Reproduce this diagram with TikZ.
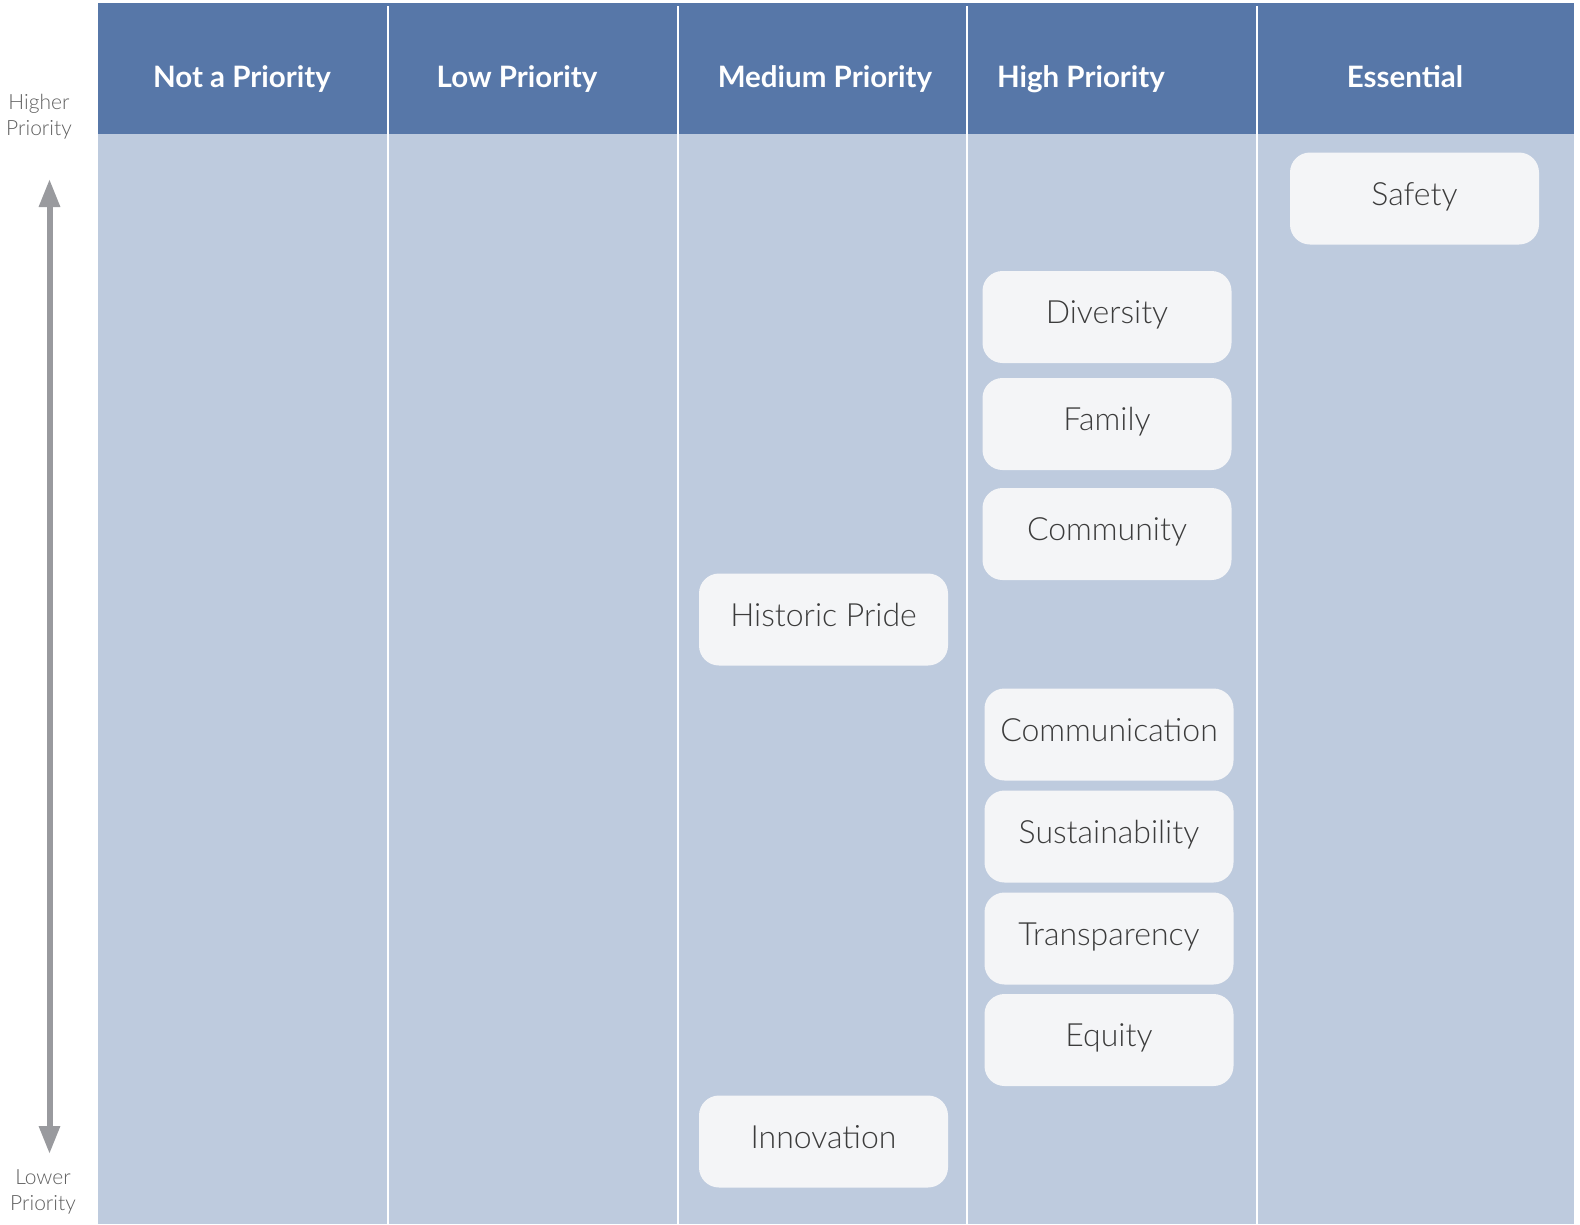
\documentclass[tikz,border=0pt]{standalone}
\usepackage{fontspec}
\setmainfont{Lato}
\newfontfamily\lightfont{Lato Light}
\usetikzlibrary{arrows.meta}

\definecolor{headblue}{RGB}{87,119,168}
\definecolor{bodyblue}{RGB}{190,203,222}
\definecolor{cardfill}{RGB}{244,245,247}
\definecolor{arrowgray}{RGB}{153,154,158}
\definecolor{cardtext}{RGB}{60,60,60}
\definecolor{sidetext}{RGB}{95,95,95}

\tikzset{
    colhead/.style={text=white, text height=21pt, text depth=0pt,
        font=\fontsize{29.5}{36}\selectfont\bfseries},
    card/.style={fill=cardfill, rounded corners=20pt, minimum width=249pt, minimum height=92pt,
        text height=23pt, text depth=0pt,
        text=cardtext, font=\lightfont\fontsize{32}{38}\selectfont},
    sidelabel/.style={text=sidetext, align=center, font=\lightfont\fontsize{21}{26}\selectfont},
}
\newcommand{\cardtext}[1]{\raisebox{5pt}{#1}}

\begin{document}
\begin{tikzpicture}[x=1pt,y=-1pt]
    \useasboundingbox (0,0) rectangle (1580,1224);
    % table
    \fill[bodyblue] (98,3) rectangle (1574,1224);
    \fill[headblue] (98,3) rectangle (1574,134);
    \foreach \x in {388,678,967,1257}
        \draw[white, line width=2.5pt] (\x,6) -- (\x,1224);

    \node[colhead] (notprio) at (242,76.5) {Not a Priority};
    \node[colhead] (lowprio) at (517,76.5) {Low Priority};
    \node[colhead] (medprio) at (825,76.5) {Medium Priority};
    \node[colhead] (highprio) at (1081,76.5) {High Priority};
    \node[colhead] (essential) at (1405,76.5) {Essential};

    % cards
    \node[card] (safety) at (1414.5,198.5) {\cardtext{Safety}};
    \node[card] (diversity) at (1107,317) {\cardtext{Diversity}};
    \node[card] (family) at (1107,424) {\cardtext{Family}};
    \node[card] (community) at (1107,534) {\cardtext{Community}};
    \node[card] (pride) at (823.5,619.5) {\cardtext{Historic Pride}};
    \node[card] (communication) at (1109,734.5) {\cardtext{Communication}};
    \node[card] (sustain) at (1109,836.5) {\cardtext{Sustainability}};
    \node[card] (transp) at (1109,938.5) {\cardtext{Transparency}};
    \node[card] (equity) at (1109,1040) {\cardtext{Equity}};
    \node[card] (innovation) at (823.5,1141.5) {\cardtext{Innovation}};

    % priority axis
    \node[sidelabel] (higher) at (39,117) {Higher\\Priority};
    \node[sidelabel] (lower) at (43,1192) {Lower\\Priority};
    \coordinate (axtop) at (49.5,179);
    \coordinate (axbot) at (49.5,1154);
    \draw[arrowgray, line width=6pt, {Triangle[width=20pt,length=28pt]}-{Triangle[width=20pt,length=28pt]}] (axtop) -- (axbot);
\end{tikzpicture}
\end{document}
